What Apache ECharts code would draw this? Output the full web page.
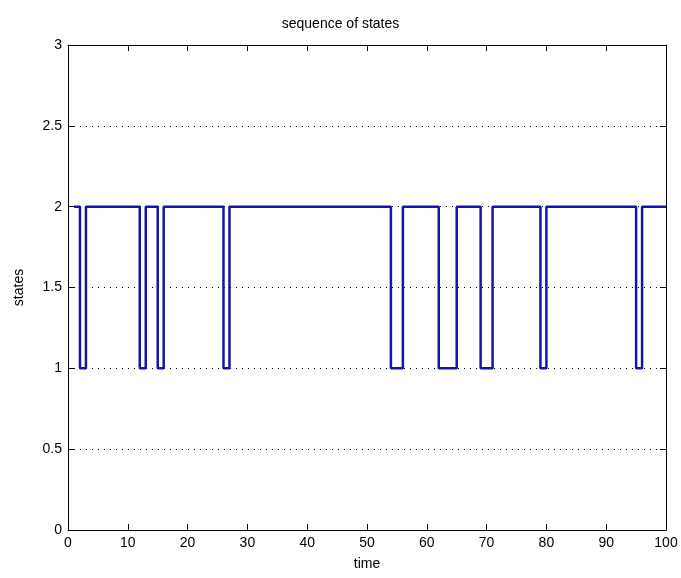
<!DOCTYPE html>
<html><head><meta charset="utf-8">
<script src="https://cdn.jsdelivr.net/npm/echarts@6/dist/echarts.min.js"></script>
<style>html,body{margin:0;padding:0;background:#fff}#c{width:681px;height:578px}</style>
</head><body><div id="c"></div>
<script>
var times = [];
for (var i = 1; i <= 100; i++) times.push(i);
var states = [
2,1,2,2,2,2,2,2,2,2, 2,1,2,2,1,2,2,2,2,2,
2,2,2,2,2,1,2,2,2,2, 2,2,2,2,2,2,2,2,2,2,
2,2,2,2,2,2,2,2,2,2, 2,2,2,1,1,2,2,2,2,2,
2,1,1,1,2,2,2,2,1,1, 2,2,2,2,2,2,2,2,1,2,
2,2,2,2,2,2,2,2,2,2, 2,2,2,2,1,2,2,2,2,2
];
var xTicks = [0,10,20,30,40,50,60,70,80,90,100];
var yTicks = [0,0.5,1,1.5,2,2.5,3];
var data = times.map(function(t,i){return [t, states[i]];});
var font = '"Liberation Sans Narrow","Liberation Sans",Arial,sans-serif';
var chart = echarts.init(document.getElementById('c'));
var axisLine = {show:true, onZero:false, lineStyle:{color:'#000', width:1}};
var tick = {show:true, inside:true, length:6, lineStyle:{color:'#000'}};
chart.setOption({
  animation:false,
  title:{text:'sequence of states', left:'center', top:12, textStyle:{fontFamily:font, fontSize:14, fontWeight:'normal', color:'#000'}},
  grid:{left:68, right:15, top:45, bottom:48},
  xAxis:[
    {type:'value', min:0, max:100, interval:10, axisLine:axisLine, axisTick:tick,
     axisLabel:{color:'#000', fontFamily:font, fontSize:14, margin:6, formatter:function(v){return xTicks.indexOf(v)>=0?String(v):'';}},
     splitLine:{show:false},
     name:'time', nameLocation:'middle', nameGap:27, nameTextStyle:{fontFamily:font, fontSize:14, color:'#000'}},
    {type:'value', position:'top', min:0, max:100, interval:10, axisLine:axisLine, axisTick:tick, axisLabel:{show:false}, splitLine:{show:false}}
  ],
  yAxis:[
    {type:'value', min:0, max:3, interval:0.5, axisLine:axisLine, axisTick:tick,
     axisLabel:{color:'#000', fontFamily:font, fontSize:14, margin:6, formatter:function(v){return yTicks.indexOf(v)>=0?String(v):'';}},
     splitLine:{show:true, lineStyle:{color:'#000', type:[1,5], width:1}},
     name:'states', nameLocation:'middle', nameGap:42, nameTextStyle:{fontFamily:font, fontSize:14, color:'#000'}},
    {type:'value', position:'right', min:0, max:3, interval:0.5, axisLine:axisLine, axisTick:tick, axisLabel:{show:false}, splitLine:{show:false}}
  ],
  series:[{type:'line', step:'end', data:data, showSymbol:false, lineStyle:{color:'#1414a8', width:2.5}}]
});
</script></body></html>
